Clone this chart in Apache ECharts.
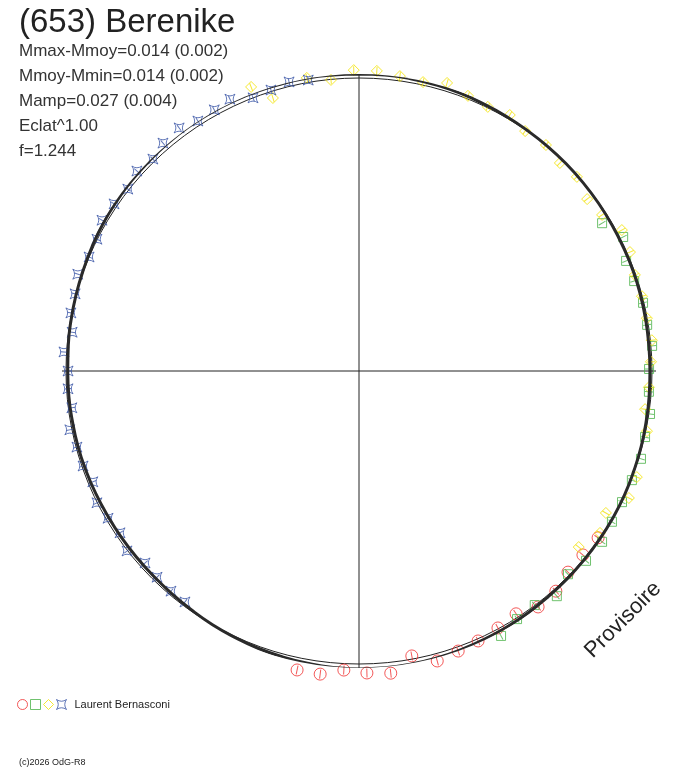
<!DOCTYPE html>
<html>
<head>
    <meta charset="utf-8">
    <title>(653) Berenike</title>
    <script src="https://cdn.jsdelivr.net/npm/echarts@6/dist/echarts.min.js"></script>
    <style>
        body { margin: 0; background: #fff; }
    </style>
</head>
<body>
<div id="main" style="width: 688px;height:768px;"></div>
<script type="text/javascript">
    // phase in degrees (clockwise from top), relative flux (1 = mean circle)
    var titleText = '(653) Berenike';
    var statLines = ['Mmax-Mmoy=0.014 (0.002)', 'Mmoy-Mmin=0.014 (0.002)', 'Mamp=0.027 (0.004)', 'Eclat^1.00', 'f=1.244'];
    var observer = 'Laurent Bernasconi';
    var sessions = ['s1', 's2', 's3', observer];
    var copyright = '(c)2026 OdG-R8';
    var stamp = 'Provisoire';

    var curvePhase = [0, 5, 10, 15, 20, 25, 30, 35, 40, 45, 50, 55, 60, 65, 70, 75, 80, 85, 90,
        95, 100, 105, 110, 115, 120, 125, 130, 135, 140, 145, 150, 155, 160, 165, 170, 175, 180,
        185, 190, 195, 200, 205, 210, 215, 220, 225, 230, 235, 240, 245, 250, 255, 260, 265, 270,
        275, 280, 285, 290, 295, 300, 305, 310, 315, 320, 325, 330, 335, 340, 345, 350, 355, 360];
    var curveFlux = [1.014, 1.014, 1.013, 1.011, 1.009, 1.006, 1.004, 1.002, 1.001, 1.000, 0.999, 0.998, 0.997, 0.996, 0.996, 0.995, 0.994, 0.993, 0.993,
        0.994, 0.995, 0.997, 0.998, 1.000, 1.001, 1.002, 1.003, 1.004, 1.005, 1.007, 1.009, 1.011, 1.013, 1.015, 1.016, 1.017, 1.017,
        1.016, 1.013, 1.010, 1.007, 1.003, 1.000, 0.996, 0.993, 0.991, 0.990, 0.990, 0.990, 0.991, 0.992, 0.993, 0.993, 0.994, 0.994,
        0.996, 0.998, 1.000, 1.002, 1.005, 1.008, 1.010, 1.012, 1.013, 1.015, 1.016, 1.016, 1.016, 1.016, 1.015, 1.015, 1.014, 1.014];

    var redPhase = [124.9, 129.4, 133.9, 138.2, 142.8, 147.1, 151.6, 156.2, 160.5, 164.9, 169.5, 174.0, 178.5, 182.9, 187.3, 191.7];
    var redFlux = [0.995, 0.989, 0.990, 1.008, 1.011, 0.987, 0.997, 1.007, 1.014, 1.025, 0.989, 1.037, 1.031, 1.022, 1.043, 1.042];

    var greenPhase = [58.7, 63.1, 67.6, 71.9, 76.5, 80.9, 85.1, 89.6, 94.1, 98.4, 103.0, 107.3, 111.8, 116.5, 120.8, 125.1, 129.9, 134.2, 138.7, 143.1, 147.5, 151.8];
    var greenFlux = [0.971, 1.011, 0.986, 0.988, 0.997, 0.996, 1.004, 0.990, 0.992, 1.004, 1.002, 1.008, 1.003, 1.003, 1.005, 1.014, 1.010, 0.995, 1.023, 0.999, 1.004, 1.026];

    var yellowPhase = [339.2, 342.5, 349.9, 354.5, 359.0, 3.4, 7.9, 12.5, 17.0, 21.6, 26.0, 30.5, 34.7, 39.6, 44.0, 48.3, 53.0, 57.3, 61.8, 66.3, 70.8, 75.2, 79.6, 84.0, 88.2, 93.2, 97.6, 101.8, 110.9, 115.2, 119.9, 123.9, 128.7];
    var yellowFlux = [1.037, 0.977, 1.016, 0.998, 1.027, 1.026, 1.016, 1.010, 1.028, 1.010, 1.003, 1.014, 0.996, 1.001, 0.987, 0.996, 0.975, 0.986, 1.018, 1.010, 0.997, 0.999, 0.999, 1.005, 0.997, 0.991, 0.985, 1.004, 1.015, 1.018, 0.972, 0.991, 0.961];

    var bluePhase = [350.1, 346.4, 342.6, 338.8, 334.6, 331.0, 327.2, 323.5, 319.3, 315.8, 312.0, 308.2, 304.3, 300.4, 296.7, 292.9, 289.0, 285.2, 281.4, 277.7, 273.7, 270.0, 266.5, 262.7, 258.5, 254.9, 251.0, 247.4, 243.3, 239.6, 235.9, 232.2, 228.1, 224.4, 220.5, 217.0];
    var blueFlux = [1.008, 1.015, 1.005, 1.000, 1.027, 1.019, 1.015, 1.032, 1.026, 1.009, 1.020, 1.004, 1.012, 1.017, 1.001, 1.000, 1.015, 1.004, 1.003, 0.988, 1.009, 0.993, 0.995, 0.988, 1.007, 0.997, 0.996, 0.984, 1.001, 0.993, 0.985, 1.002, 0.981, 0.985, 0.988, 0.987];

    var starPath = 'path://M0,0 Q5,3.5 10,0 Q6.5,5 10,10 Q5,6.5 0,10 Q3.5,5 0,0 Z';
    // short radial bar drawn inside each marker
    var barPath = 'path://M5,0 L5,10 M0,5 L0,5 M10,5 L10,5';
    var font = '"Liberation Sans", Arial, sans-serif';
    var clear = 'rgba(0,0,0,0)';

    // polar data items are [radius, angle]
    function pairs(flux, phase) {
        var out = [];
        for (var i = 0; i < flux.length; i++) {
            out.push([flux[i], phase[i]]);
        }
        return out;
    }

    function marks(name, flux, phase, symbol, size, color) {
        return {
            name: name,
            type: 'scatter',
            coordinateSystem: 'polar',
            polarIndex: 0,
            clip: false,
            symbol: symbol,
            symbolSize: size,
            itemStyle: {color: clear, borderColor: color, borderWidth: 1},
            data: pairs(flux, phase),
            z: 2
        };
    }

    function bars(flux, phase, size, color) {
        var data = [];
        for (var i = 0; i < flux.length; i++) {
            data.push({value: [flux[i], phase[i]], symbolRotate: -phase[i]});
        }
        return {
            type: 'scatter',
            coordinateSystem: 'polar',
            polarIndex: 0,
            clip: false,
            silent: true,
            symbol: barPath,
            symbolSize: size,
            itemStyle: {color: clear, borderColor: color, borderWidth: 1},
            data: data,
            z: 2
        };
    }

    var myChart = echarts.init(document.getElementById('main'));

    var hidden = {show: false};
    var option = {
        animation: false,
        backgroundColor: '#fff',
        title: [
            {
                text: titleText,
                left: 19,
                top: 6,
                padding: 0,
                textStyle: {fontFamily: font, fontSize: 33, fontWeight: 'normal', color: '#222'}
            },
            {
                text: statLines.join('\n'),
                left: 19,
                top: 39,
                padding: 0,
                textStyle: {fontFamily: font, fontSize: 17, fontWeight: 'normal', color: '#333', lineHeight: 25}
            }
        ],
        legend: {
            left: 17,
            top: 699,
            padding: 0,
            itemWidth: 10,
            itemHeight: 10,
            itemGap: 2,
            selectedMode: false,
            textStyle: {fontFamily: font, fontSize: 11, color: '#222', padding: [0, 0, 0, 3]},
            formatter: function (name) {
                return name === observer ? observer : '';
            },
            data: [
                {name: sessions[0], icon: 'circle', itemStyle: {color: clear, borderColor: '#f03030', borderWidth: 1}},
                {name: sessions[1], icon: 'rect', itemStyle: {color: clear, borderColor: '#4cb34a', borderWidth: 1}},
                {name: sessions[2], icon: 'diamond', itemStyle: {color: clear, borderColor: '#f2e200', borderWidth: 1}},
                {name: sessions[3], icon: starPath, itemStyle: {color: clear, borderColor: '#3a55a6', borderWidth: 1}}
            ]
        },
        polar: [
            {center: [359, 371], radius: 297},
            {center: [359, 371], radius: 293}
        ],
        angleAxis: [
            {
                polarIndex: 0,
                type: 'value',
                min: 0,
                max: 360,
                interval: 90,
                startAngle: 90,
                clockwise: true,
                axisLine: hidden,
                axisTick: hidden,
                axisLabel: hidden,
                splitLine: {show: true, lineStyle: {color: '#222', width: 1}}
            },
            {
                polarIndex: 1,
                type: 'value',
                min: 0,
                max: 360,
                startAngle: 90,
                axisLine: {show: true, lineStyle: {color: '#222', width: 1}},
                axisTick: hidden,
                axisLabel: hidden,
                splitLine: hidden
            }
        ],
        radiusAxis: [
            {
                polarIndex: 0,
                type: 'value',
                min: 0,
                max: 297 / 293,
                axisLine: hidden,
                axisTick: hidden,
                axisLabel: hidden,
                splitLine: hidden
            },
            {
                polarIndex: 1,
                type: 'value',
                min: 0,
                max: 1,
                axisLine: hidden,
                axisTick: hidden,
                axisLabel: hidden,
                splitLine: hidden
            }
        ],
        series: [
            marks(sessions[0], redFlux, redPhase, 'circle', 12, '#f03030'),
            bars(redFlux, redPhase, 9, '#f03030'),
            marks(sessions[1], greenFlux, greenPhase, 'rect', 9, '#4cb34a'),
            bars(greenFlux, greenPhase, 8, '#4cb34a'),
            marks(sessions[2], yellowFlux, yellowPhase, 'diamond', 11, '#f2e200'),
            bars(yellowFlux, yellowPhase, 8, '#f2e200'),
            marks(sessions[3], blueFlux, bluePhase, starPath, 10, '#3a55a6'),
            bars(blueFlux, bluePhase, 7, '#3a55a6'),
            {
                name: 'fit',
                type: 'line',
                coordinateSystem: 'polar',
                polarIndex: 0,
                clip: false,
                smooth: true,
                showSymbol: false,
                lineStyle: {color: '#2a2a2a', width: 3},
                data: pairs(curveFlux, curvePhase),
                z: 3
            }
        ],
        graphic: [
            {
                type: 'text',
                x: 623,
                y: 620,
                rotation: Math.PI / 4,
                style: {text: stamp, fontFamily: font, fontSize: 22, fill: '#222', align: 'center', verticalAlign: 'middle'}
            },
            {
                type: 'text',
                left: 19,
                top: 758,
                style: {text: copyright, fontFamily: font, fontSize: 9, fill: '#222'}
            }
        ]
    };

    myChart.setOption(option);
</script>
</body>
</html>
